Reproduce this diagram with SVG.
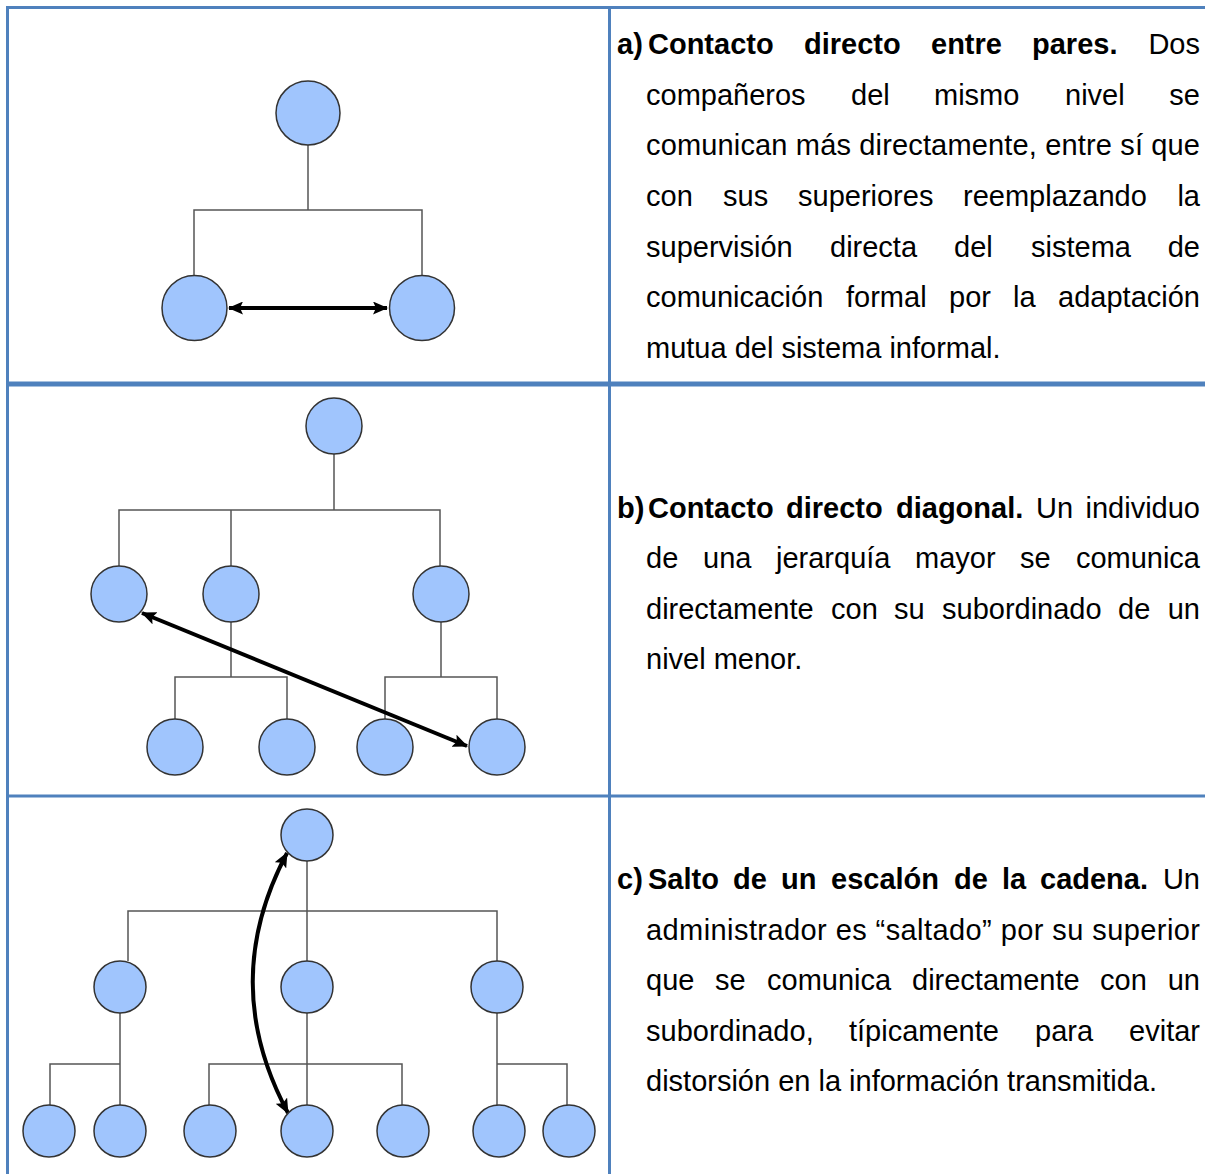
<svg xmlns="http://www.w3.org/2000/svg" width="1205" height="1174" viewBox="0 0 1205 1174">
<style>
.node{fill:#a0c5fd;stroke:#333;stroke-width:1.5}
.tree{fill:none;stroke:#555;stroke-width:1.5}
.arr{fill:none;stroke:#000;stroke-width:4}
.grid{stroke:#4f81bd;fill:none}
text{font-family:"Liberation Sans",Arial,sans-serif;font-size:29px;fill:#000}
.b{font-weight:bold}
.e{text-anchor:end}
</style>
<defs>
<marker id="ah" viewBox="0 0 15 13" refX="14" refY="6.5" markerWidth="15" markerHeight="13" markerUnits="userSpaceOnUse" orient="auto-start-reverse">
<path d="M0,0 L15,6.5 L0,13 L3,6.5 z" fill="#000"/>
</marker>
</defs>
<rect width="1205" height="1174" fill="#fff"/>
<g id="table">
<line class="grid" x1="7.5" y1="6" x2="7.5" y2="1174" stroke-width="3"/>
<line class="grid" x1="6" y1="7.5" x2="1205" y2="7.5" stroke-width="3"/>
<line class="grid" x1="609.5" y1="6" x2="609.5" y2="1174" stroke-width="3"/>
<line class="grid" x1="6" y1="384" x2="1205" y2="384" stroke-width="5"/>
<line class="grid" x1="6" y1="796" x2="1205" y2="796" stroke-width="3"/>
</g>
<g id="connectors">
<path class="tree" d="M308,145 V210 M194,276 V210 H422 V276"/>
<path class="tree" d="M334,454 V510 M119,566 V510 H440 V566 M231,510 V566 M231,622 V677 M175,719 V677 H287 V719 M441,622 V677 M385,719 V677 H497 V719"/>
<path class="tree" d="M307,861 V911 M128,961 V911 H497 V961 M307,911 V961 M120,1013 V1064 M50,1105 V1064 H120 V1105 M307,1013 V1105 M209,1105 V1064 H402 V1105 M497,1013 V1105 M497,1064 H567 V1105"/>
<line class="arr" x1="229" y1="308" x2="387" y2="308" marker-start="url(#ah)" marker-end="url(#ah)"/>
<line class="arr" x1="142" y1="613" x2="467" y2="746" marker-start="url(#ah)" marker-end="url(#ah)"/>
<path class="arr" d="M287,853 Q218,983 288,1113" marker-start="url(#ah)" marker-end="url(#ah)"/>
</g>
<g id="nodes-a">
<circle id="a1" class="node" cx="308" cy="113" r="32"/>
<circle id="a2" class="node" cx="194.5" cy="308" r="32.5"/>
<circle id="a3" class="node" cx="422" cy="308" r="32.5"/>
</g>
<g id="nodes-b">
<circle id="b1" class="node" cx="334" cy="426" r="28"/>
<circle id="b2" class="node" cx="119" cy="594" r="28"/>
<circle id="b3" class="node" cx="231" cy="594" r="28"/>
<circle id="b4" class="node" cx="441" cy="594" r="28"/>
<circle id="b5" class="node" cx="175" cy="747" r="28"/>
<circle id="b6" class="node" cx="287" cy="747" r="28"/>
<circle id="b7" class="node" cx="385" cy="747" r="28"/>
<circle id="b8" class="node" cx="497" cy="747" r="28"/>
</g>
<g id="nodes-c">
<circle id="c1" class="node" cx="307" cy="835" r="26"/>
<circle id="c2" class="node" cx="120" cy="987" r="26"/>
<circle id="c3" class="node" cx="307" cy="987" r="26"/>
<circle id="c4" class="node" cx="497" cy="987" r="26"/>
<circle id="c5" class="node" cx="49" cy="1131" r="26"/>
<circle id="c6" class="node" cx="120" cy="1131" r="26"/>
<circle id="c7" class="node" cx="210" cy="1131" r="26"/>
<circle id="c8" class="node" cx="307" cy="1131" r="26"/>
<circle id="c9" class="node" cx="403" cy="1131" r="26"/>
<circle id="c10" class="node" cx="499" cy="1131" r="26"/>
<circle id="c11" class="node" cx="569" cy="1131" r="26"/>
</g>
<g id="text-a">
<text class="b" x="617" y="54">a)</text>
<text class="b" x="648" y="54">Contacto</text>
<text class="b" x="804" y="54">directo</text>
<text class="b" x="931" y="54">entre</text>
<text class="b" x="1032" y="54">pares.</text>
<text class="e" x="1200" y="54">Dos</text>
<text x="646" y="105">compañeros</text>
<text x="851" y="105">del</text>
<text x="934" y="105">mismo</text>
<text x="1065" y="105">nivel</text>
<text class="e" x="1200" y="105">se</text>
<text x="646" y="155" textLength="554" lengthAdjust="spacing">comunican más directamente, entre sí que</text>
<text x="646" y="206">con</text>
<text x="723" y="206">sus</text>
<text x="798" y="206">superiores</text>
<text x="963" y="206">reemplazando</text>
<text class="e" x="1200" y="206">la</text>
<text x="646" y="257">supervisión</text>
<text x="830" y="257">directa</text>
<text x="954" y="257">del</text>
<text x="1031" y="257">sistema</text>
<text class="e" x="1200" y="257">de</text>
<text x="646" y="307">comunicación</text>
<text x="846" y="307">formal</text>
<text x="949" y="307">por</text>
<text x="1013" y="307">la</text>
<text class="e" x="1200" y="307">adaptación</text>
<text x="646" y="358">mutua del sistema informal.</text>
</g>
<g id="text-b">
<text class="b" x="617" y="518">b)</text>
<text class="b" x="648" y="518">Contacto</text>
<text class="b" x="786" y="518">directo</text>
<text class="b" x="896" y="518">diagonal.</text>
<text x="1036" y="518">Un</text>
<text class="e" x="1200" y="518">individuo</text>
<text x="646" y="568">de</text>
<text x="703" y="568">una</text>
<text x="776" y="568">jerarquía</text>
<text x="915" y="568">mayor</text>
<text x="1020" y="568">se</text>
<text class="e" x="1200" y="568">comunica</text>
<text x="646" y="619">directamente</text>
<text x="831" y="619">con</text>
<text x="894" y="619">su</text>
<text x="942" y="619">subordinado</text>
<text x="1118" y="619">de</text>
<text class="e" x="1200" y="619">un</text>
<text x="646" y="669">nivel menor.</text>
</g>
<g id="text-c">
<text class="b" x="617" y="889">c)</text>
<text class="b" x="648" y="889">Salto</text>
<text class="b" x="733" y="889">de</text>
<text class="b" x="781" y="889">un</text>
<text class="b" x="831" y="889">escalón</text>
<text class="b" x="954" y="889">de</text>
<text class="b" x="1002" y="889">la</text>
<text class="b" x="1040" y="889">cadena.</text>
<text class="e" x="1200" y="889">Un</text>
<text x="646" y="940" textLength="554" lengthAdjust="spacing">administrador es “saltado” por su superior</text>
<text x="646" y="990">que</text>
<text x="715" y="990">se</text>
<text x="767" y="990">comunica</text>
<text x="912" y="990">directamente</text>
<text x="1100" y="990">con</text>
<text class="e" x="1200" y="990">un</text>
<text x="646" y="1041">subordinado,</text>
<text x="849" y="1041">típicamente</text>
<text x="1035" y="1041">para</text>
<text class="e" x="1200" y="1041">evitar</text>
<text x="646" y="1091">distorsión en la información transmitida.</text>
</g>
</svg>
